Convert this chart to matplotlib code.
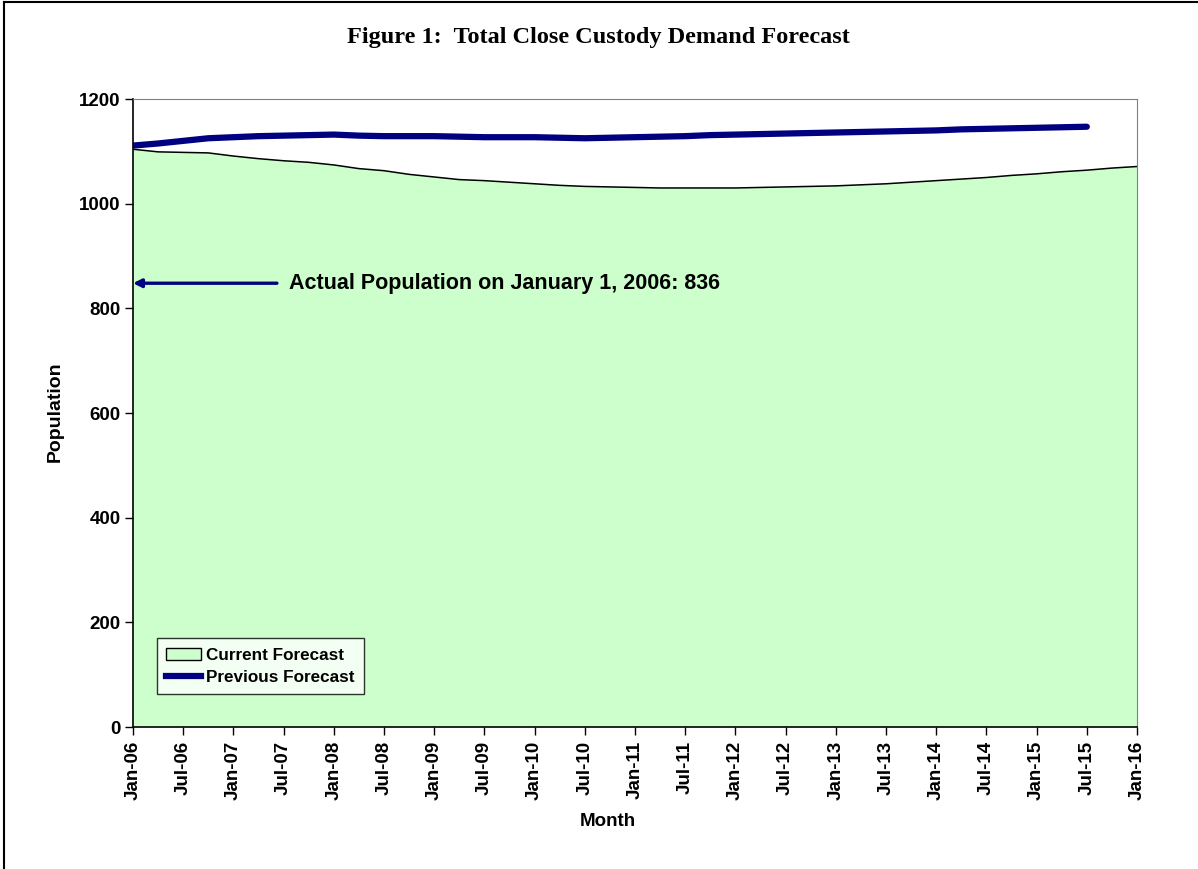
import numpy as np
import matplotlib
matplotlib.use('Agg')
from matplotlib import pyplot as plt
from matplotlib.patches import Patch
from matplotlib.lines import Line2D

# months since Jan-06, quarterly readings
months_cur = list(range(0, 121, 3))
current = [1104, 1099, 1098, 1097, 1091, 1086, 1082, 1079, 1074, 1067,
           1063, 1056, 1051, 1046, 1044, 1041, 1038, 1035, 1033, 1032,
           1031, 1030, 1030, 1030, 1030, 1031, 1032, 1033, 1034, 1036,
           1038, 1041, 1044, 1047, 1050, 1054, 1057, 1061, 1064, 1068, 1071]

months_prev = list(range(0, 115, 3))
previous = [1111, 1115, 1120, 1125, 1127, 1129, 1130, 1131, 1132, 1130,
            1129, 1129, 1129, 1128, 1127, 1127, 1127, 1126, 1125, 1126,
            1127, 1128, 1129, 1131, 1132, 1133, 1134, 1135, 1136, 1137,
            1138, 1139, 1140, 1142, 1143, 1144, 1145, 1146, 1147]

tick_months = list(range(0, 121, 6))
tick_labels = ['Jan-06', 'Jul-06', 'Jan-07', 'Jul-07', 'Jan-08', 'Jul-08',
               'Jan-09', 'Jul-09', 'Jan-10', 'Jul-10', 'Jan-11', 'Jul-11',
               'Jan-12', 'Jul-12', 'Jan-13', 'Jul-13', 'Jan-14', 'Jul-14',
               'Jan-15', 'Jul-15', 'Jan-16']

actual_pop = 836

plt.rcParams['font.family'] = ['Liberation Sans', 'DejaVu Sans']
plt.rcParams['font.weight'] = 'bold'

W, H = 1198, 869
fig = plt.figure(figsize=(W/100, H/100), dpi=100)
ax = fig.add_axes([133/W, 1-727/H, (1137-133)/W, (727-99)/H])

# frame round the whole figure (top and left visible)
fig.add_artist(Line2D([4/W, 4/W], [0, 1-1.5/H], transform=fig.transFigure, color='black', lw=1.5))
fig.add_artist(Line2D([4/W, 1], [1-1.5/H, 1-1.5/H], transform=fig.transFigure, color='black', lw=1.5))

ax.fill_between(months_cur, current, 0, facecolor='#CCFFCC', edgecolor='none')
ax.plot(months_cur, current, color='black', lw=1.1)
ax.plot(months_prev, previous, color='#000080', lw=4.5, solid_capstyle='round')

ax.set_xlim(0, 120)
ax.set_ylim(0, 1200)
ax.set_yticks(range(0, 1201, 200))
ax.set_xticks(tick_months)
ax.set_xticklabels(tick_labels, rotation=90)
ax.tick_params(axis='both', labelsize=13.5, length=6, width=1, direction='out')
ax.tick_params(axis='x', pad=4)
ax.tick_params(axis='y', pad=3)
for s in ['top', 'right']:
    ax.spines[s].set_color('#808080')
for s in ['left', 'bottom']:
    ax.spines[s].set_color('black')
    ax.spines[s].set_linewidth(1.2)

fig.text(55/W, 1-412/H, 'Population', rotation=90, ha='center', va='center',
         fontsize=14, fontweight='bold')
fig.text(608/W, 1-822/H, 'Month', ha='center', va='center',
         fontsize=13.5, fontweight='bold')

fig.text(598/W, 1-38/H, 'Figure 1:  Total Close Custody Demand Forecast',
         ha='center', va='center', fontsize=17.5, fontweight='bold',
         family='Liberation Serif')

ax.annotate('', xy=(0, actual_pop + 12), xytext=(17.2, actual_pop + 12),
            arrowprops=dict(arrowstyle='-|>', color='#000080', lw=2.4,
                            mutation_scale=12, shrinkA=0, shrinkB=0))
ax.text(18.6, actual_pop + 12, 'Actual Population on January 1, 2006: ' + str(actual_pop),
        ha='left', va='center', fontsize=15.5, fontweight='bold')

handles = [Patch(facecolor='#CCFFCC', edgecolor='black', lw=1),
           Line2D([], [], color='#000080', lw=4.5)]
leg = ax.legend(handles, ['Current Forecast', 'Previous Forecast'], loc='lower left',
                bbox_to_anchor=(24/1004, 33/628), fontsize=12.3, frameon=True,
                fancybox=False, handlelength=2.0, handletextpad=0.3,
                borderpad=0.55, labelspacing=0.4, borderaxespad=0)
leg.get_frame().set_edgecolor('black')
leg.get_frame().set_linewidth(1)
leg.get_frame().set_facecolor('white')

fig.savefig('out.png', dpi=100)
